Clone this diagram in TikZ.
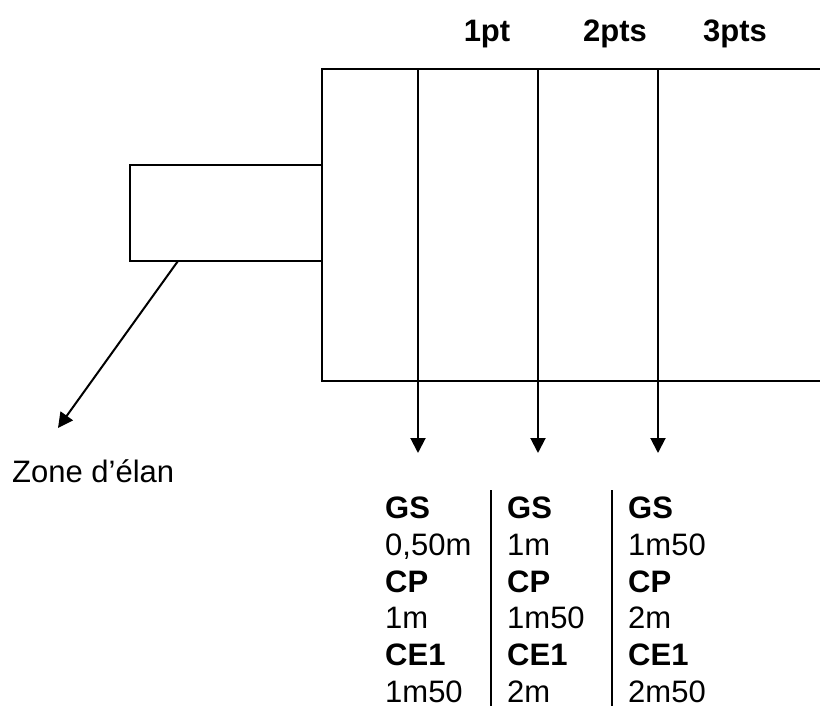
\documentclass[tikz,border=0pt]{standalone}
\usepackage{fontspec}
\setmainfont{Liberation Sans}
\usetikzlibrary{arrows.meta}
\begin{document}
\begin{tikzpicture}[x=1pt,y=-1pt,
  edge/.style={line width=1.5pt},
  arr/.style={line width=2pt,-{Triangle[width=15pt,length=15pt]}},
  lab/.style={font=\fontsize{31}{36}\selectfont\bfseries, anchor=base, inner sep=0pt},
  txt/.style={font=\fontsize{31}{36}\selectfont, anchor=base west, inner sep=0pt},
  btxt/.style={font=\fontsize{31}{36}\selectfont\bfseries, anchor=base west, inner sep=0pt},
]
\useasboundingbox (0,0) rectangle (820,706);
% field
\coordinate (tl) at (322,69);
\coordinate (bl) at (322,381);
\coordinate (tr) at (820,69);
\coordinate (br) at (820,381);
\draw[edge] (tr) -- (tl) -- (bl) -- (br);
% run-up zone
\coordinate (rtl) at (130,165);
\coordinate (rbr) at (322,261);
\draw[edge] (rtl) rectangle (rbr);
\coordinate (ds) at (178,261);
\coordinate (de) at (58,428);
\draw[arr] (ds) -- (de);
\node[txt] (zone) at (12,482) {Zone d’élan};
% top labels
\node[lab] (l1) at (487,42) {1pt};
\node[lab] (l2) at (615,42) {2pts};
\node[lab] (l3) at (735,42) {3pts};
% arrows
\foreach \i/\x in {1/418,2/538,3/658}{
  \coordinate (a\i) at (\x,69);
  \coordinate (t\i) at (\x,453);
  \draw[arr] (a\i) -- (t\i);
}
% separators
\coordinate (s1a) at (491,490); \coordinate (s1b) at (491,706);
\coordinate (s2a) at (612,490); \coordinate (s2b) at (612,706);
\draw[line width=1.5pt] (s1a) -- (s1b);
\draw[line width=1.5pt] (s2a) -- (s2b);
% table
\foreach \c/\x/\va/\vb/\vc in {1/385/{0,50m}/1m/1m50, 2/507/1m/1m50/2m, 3/628/1m50/2m/2m50}{
  \node[btxt] (gs\c) at (\x,518) {GS};
  \node[txt] (v1\c) at (\x,555) {\va};
  \node[btxt] (cp\c) at (\x,592) {CP};
  \node[txt] (v2\c) at (\x,628) {\vb};
  \node[btxt] (ce\c) at (\x,665) {CE1};
  \node[txt] (v3\c) at (\x,702) {\vc};
}
\end{tikzpicture}
\end{document}
